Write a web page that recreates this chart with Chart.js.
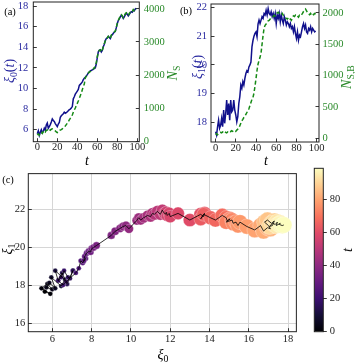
<!DOCTYPE html>
<html><head><meta charset="utf-8">
<script src="https://cdn.jsdelivr.net/npm/chart.js@4.4.1/dist/chart.umd.min.js"></script>
<style>
html,body{margin:0;padding:0;background:#fff;}
#wrap{position:relative;width:355px;height:362px;overflow:hidden;background:#fff;font-family:"Liberation Serif","Times New Roman",serif;}
canvas{position:absolute;}
.lbl{position:absolute;white-space:nowrap;line-height:1;transform:translate(-50%,-50%);z-index:5;}
.rot{transform:translate(-50%,-50%) rotate(-90deg);}
sub{font-size:70%;vertical-align:baseline;position:relative;top:0.28em;font-style:normal;}
</style></head>
<body><div id="wrap">
<canvas id="ca" width="178" height="168" style="left:0;top:0;width:178px;height:168px"></canvas>
<canvas id="cb" width="177" height="168" style="left:178px;top:0;width:177px;height:168px"></canvas>
<canvas id="cc" width="305" height="197" style="left:0;top:165px;width:305px;height:197px"></canvas>
<canvas id="cbar" width="55" height="185" style="left:300px;top:160px;width:55px;height:185px"></canvas>

<div class="lbl" style="left:10px;top:12px;font-size:10.5px">(a)</div>
<div class="lbl rot" style="left:10px;top:71px;color:#2a2aa0;font-size:14px"><i>ξ</i><sub>0</sub>(<i>t</i>)</div>
<div class="lbl rot" style="left:173px;top:73px;color:#2a8a2a;font-size:14px"><i>N</i><sub>S</sub></div>
<div class="lbl" style="left:87px;top:161px;font-size:14px"><i>t</i></div>

<div class="lbl" style="left:186px;top:11px;font-size:10.5px">(b)</div>
<div class="lbl rot" style="left:198px;top:67px;color:#2a2aa0;font-size:14px"><i>ξ</i><sub>1</sub>(<i>t</i>)</div>
<div class="lbl rot" style="left:347px;top:77px;color:#2a8a2a;font-size:14px"><i>N</i><sub>S,B</sub></div>
<div class="lbl" style="left:266px;top:161px;font-size:14px"><i>t</i></div>

<div class="lbl" style="left:8px;top:180px;font-size:10.5px">(c)</div>
<div class="lbl rot" style="left:8px;top:249px;font-size:14px"><i>ξ</i><sub>1</sub></div>
<div class="lbl" style="left:163px;top:355px;font-size:14px"><i>ξ</i><sub>0</sub></div>
<div class="lbl rot" style="left:348px;top:250px;font-size:14px"><i>t</i></div>
</div>
<script>
// ---------------- DATA ----------------
const tValues = [0,1,2,3,4,5,6,7,8,9,10,11,12,13,14,15,16,17,18,19,20,21,22,23,24,25,26,27,28,29,30,31,32,33,34,35,36,37,38,39,40,41,42,43,44,45,46,47,48,49,50,51,52,53,54,55,56,57,58,59,60,61,62,63,64,65,66,67,68,69,70,71,72,73,74,75,76,77,78,79,80,81,82,83,84,85,86,87,88,89,90,91,92,93,94,95,96,97,98,99];
const xi0 = [5.62,5.90,5.45,5.75,6.00,5.70,5.85,6.15,5.95,6.45, 6.65,6.15,6.30,6.50,6.75,7.05,6.90,6.80,6.60,6.45,
             6.30,6.55,6.70,7.20,7.35,7.45,7.55,7.70,7.60,7.65, 7.75,7.85,7.95,8.00,8.10,8.25,9.00,9.20,9.45,9.60,
             9.75,9.90,10.30,10.40,10.50,10.65,10.85,11.00,11.10,11.20, 11.35,11.50,11.60,11.70,11.75,11.80,11.85,11.95,12.00,12.40,
             13.00,13.55,13.70,13.75,13.55,13.70,14.05,14.30,14.65,14.85, 14.90,15.05,14.95,14.85,15.15,15.20,15.35,15.45,15.55,15.90,
             16.30,16.60,16.75,16.95,17.10,17.00,16.80,16.95,17.15,17.30, 17.20,17.05,17.20,17.35,17.45,17.40,17.60,17.55,17.70,17.78];
const xi1 = [17.68,17.56,17.85,18.08,17.80,17.90,18.14,17.85,18.43,17.97, 18.30,18.78,18.26,18.66,18.08,18.78,18.37,18.43,18.78,18.43,
             18.26,18.02,18.20,18.66,18.90,19.30,19.19,19.42,19.30,19.53, 19.70,19.80,19.76,19.93,20.00,20.10,20.63,20.85,21.00,21.10,
             21.15,20.98,21.42,21.56,21.44,21.56,21.68,21.62,21.79,21.74, 21.90,21.74,21.96,21.79,21.74,21.85,21.68,21.79,21.62,21.79,
             21.44,21.74,21.62,21.79,21.50,21.74,21.56,21.44,21.68,21.56, 21.39,21.50,21.44,21.33,21.44,21.27,21.33,21.15,21.33,21.10,
             20.92,21.15,20.86,21.04,20.98,21.15,21.33,21.44,21.27,21.39, 21.15,21.10,21.27,21.21,21.33,21.15,21.27,21.21,21.15,21.18];
const nS = [200,230,190,250,270,240,300,330,290,340, 350,320,360,340,370,380,350,340,320,290,
            270,280,320,350,360,380,410,440,470,510, 550,600,650,700,740,800,880,950,1010,1080,
            1150,1220,1300,1380,1460,1560,1660,1730,1920,1970, 2000,2060,2100,2110,2150,2170,2180,2230,2250,2380,
            2560,2690,2750,2760,2700,2760,2860,2950,3030,3110, 3120,3170,3130,3100,3210,3240,3270,3300,3330,3440,
            3560,3650,3720,3770,3820,3790,3730,3780,3850,3880, 3850,3800,3860,3900,3930,3910,3980,3950,4000,4010];
const nSB = [60,75,55,80,90,95,85,100,90,110, 95,85,100,90,110,105,120,110,115,125,
             110,130,145,160,200,240,280,300,330,350, 380,410,440,470,520,570,620,650,720,830,
             950,1080,1180,1240,1290,1360,1500,1640,1760,1800, 1820,1850,1870,1880,1900,1910,1920,1940,1960,1950,
             1980,2000,2010,1990,1980,1970,1990,1960,1940,1920, 1910,1900,1920,1890,1900,1880,1920,1950,1940,1960,
             1940,1950,1930,1960,1950,1970,1990,2020,2040,2060, 2030,2000,1980,1970,1990,1960,1980,1970,1990,1980];
const tTicks = [0,20,40,60,80,100];
const xi0Ticks = [6,8,10,12,14,16,18];
const nSTicks = [0,1000,2000,3000,4000];
const xi1Ticks = [18,19,20,21,22];
const nSBTicks = [0,500,1000,1500,2000];
const cXTicks = [6,8,10,12,14,16,18];
const cYTicks = [16,18,20,22];
const cbarTicks = [0,20,40,60,80];

// ---------------- STYLE ----------------
const FONT = '"Liberation Serif","Times New Roman",serif';
const tickFont = {family: FONT, size: 10.5};
const BLUE = '#10108c', GREEN = '#168a16', BLUE_T = '#2a2aa0', GREEN_T = '#2a8a2a', INK = '#222';
const magmaStops = ['#000004','#140e36','#3b0f70','#641a80','#8c2981','#b73779','#de4968','#f7705c','#fe9f6d','#fecf92','#fcfdbf'];
function hex(c){return [parseInt(c.slice(1,3),16),parseInt(c.slice(3,5),16),parseInt(c.slice(5,7),16)];}
function magma(f){
  f = Math.max(0, Math.min(1, f));
  const p = f*(magmaStops.length-1), i = Math.min(Math.floor(p), magmaStops.length-2), r = p-i;
  const a = hex(magmaStops[i]), b = hex(magmaStops[i+1]);
  return 'rgb('+a.map((v,k)=>Math.round(v+(b[k]-v)*r)).join(',')+')';
}
const boxPlugin = {id:'box', afterDraw(chart){
  const {ctx, chartArea:a} = chart; ctx.save(); ctx.strokeStyle = INK; ctx.lineWidth = 1;
  ctx.strokeRect(a.left, a.top, a.right-a.left, a.bottom-a.top); ctx.restore(); }};
function fixedTicks(arr){ return s => { s.ticks = arr.map(v => ({value: v})); }; }
function zeroPad(s){ s.paddingTop = 0; s.paddingBottom = 0; s.paddingLeft = 0; s.paddingRight = 0; }
function fixW(w){ return s => { s.width = w; zeroPad(s); }; }
function fixH(h){ return s => { s.height = h; zeroPad(s); }; }
function axis(o){
  return {
    type: 'linear', position: o.pos, min: o.min, max: o.max,
    afterBuildTicks: fixedTicks(o.ticks),
    afterFit: o.w !== undefined ? fixW(o.w) : fixH(o.h),
    grid: {display: true, drawOnChartArea: !!o.grid, color: '#d6d6d6', lineWidth: 1,
           drawTicks: true, tickLength: o.tl !== undefined ? o.tl : -3.5, tickColor: INK, tickWidth: 0.9},
    border: {display: false},
    ticks: {font: tickFont, color: o.color || INK, padding: o.pad, autoSkip: false, maxRotation: 0,
            callback: v => String(v)}
  };
}
const common = {responsive: false, animation: false, events: [],
  plugins: {legend: {display: false}, tooltip: {enabled: false}}};

// ---------------- (a) ----------------
new Chart(document.getElementById('ca'), {
  type: 'line',
  data: {datasets: [
    {data: tValues.map((t,i) => ({x: t, y: nS[i]})), yAxisID: 'y1', borderColor: GREEN, borderWidth: 1.5,
     borderDash: [4,2.5], pointRadius: 0, fill: false, order: 0},
    {data: tValues.map((t,i) => ({x: t, y: xi0[i]})), yAxisID: 'y', borderColor: BLUE, borderWidth: 1.5,
     pointRadius: 0, fill: false, order: 1}
  ]},
  options: Object.assign({}, common, {
    layout: {padding: {left: 0, right: 0, top: 2, bottom: 0}},
    scales: {
      x: axis({pos: 'bottom', min: -4, max: 102, ticks: tTicks, h: 26.3, pad: 3}),
      y: axis({pos: 'left', min: 4.84, max: 18.39, ticks: xi0Ticks, w: 33.3, pad: 8.5, color: BLUE_T}),
      y1: axis({pos: 'right', min: -5, max: 4205, ticks: nSTicks, w: 38.7, pad: 8, color: GREEN_T})
    }
  }),
  plugins: [boxPlugin]
});

// ---------------- (b) ----------------
new Chart(document.getElementById('cb'), {
  type: 'line',
  data: {datasets: [
    {data: tValues.map((t,i) => ({x: t, y: nSB[i]})), yAxisID: 'y1', borderColor: GREEN, borderWidth: 1.5,
     borderDash: [4,2.5], pointRadius: 0, fill: false, order: 0},
    {data: tValues.map((t,i) => ({x: t, y: xi1[i]})), yAxisID: 'y', borderColor: BLUE, borderWidth: 1.5,
     pointRadius: 0, fill: false, order: 1}
  ]},
  options: Object.assign({}, common, {
    layout: {padding: {left: 0, right: 0, top: 4, bottom: 0}},
    scales: {
      x: axis({pos: 'bottom', min: -4.5, max: 102.3, ticks: tTicks, h: 26, pad: 3}),
      y: axis({pos: 'left', min: 17.32, max: 22.12, ticks: xi1Ticks, w: 33, pad: 7.5, color: BLUE_T}),
      y1: axis({pos: 'right', min: -60, max: 2140, ticks: nSBTicks, w: 36, pad: 7, color: GREEN_T})
    }
  }),
  plugins: [boxPlugin]
});

// ---------------- (c) ----------------
const pts = xi0.map((x,i) => ({x: x, y: xi1[i]}));
const radii = nS.map(n => Math.max(2.4, 0.13*Math.sqrt(n)));
const cols = tValues.map(t => magma(t/99));
new Chart(document.getElementById('cc'), {
  type: 'scatter',
  data: {datasets: [
    {type: 'line', data: pts, borderColor: '#000', borderWidth: 0.8, pointRadius: 0, fill: false, order: 0},
    {data: pts, pointRadius: radii, pointBackgroundColor: cols, pointBorderColor: 'rgba(255,255,255,0.7)',
     pointBorderWidth: 0.4, showLine: false, order: 1}
  ]},
  options: Object.assign({}, common, {
    layout: {padding: {left: 0, right: 7.3, top: 3.3, bottom: 0}},
    scales: {
      x: axis({pos: 'bottom', min: 4.78, max: 18.42, ticks: cXTicks, h: 30.3, pad: 4.3, grid: true}),
      y: axis({pos: 'left', min: 15.57, max: 23.88, ticks: cYTicks, w: 28.3, pad: 6.5, grid: true})
    }
  }),
  plugins: [boxPlugin]
});

// ---------------- colorbar ----------------
new Chart(document.getElementById('cbar'), {
  type: 'bar',
  data: {labels: [''], datasets: [{data: [[0, 99]], barPercentage: 1, categoryPercentage: 1, borderWidth: 0,
    backgroundColor(ctx){
      const ch = ctx.chart, a = ch.chartArea; if (!a) return '#000';
      const g = ch.ctx.createLinearGradient(0, a.bottom, 0, a.top);
      magmaStops.forEach((c,i) => g.addColorStop(i/(magmaStops.length-1), c));
      return g;
    }}]},
  options: Object.assign({}, common, {
    layout: {padding: {left: 14.3, right: 0, top: 8.3, bottom: 13.3}},
    scales: {
      x: {display: false},
      y: axis({pos: 'right', min: 0, max: 99, ticks: cbarTicks, w: 31.7, pad: 3, tl: 3.5})
    }
  }),
  plugins: [boxPlugin]
});
</script>
</body></html>
